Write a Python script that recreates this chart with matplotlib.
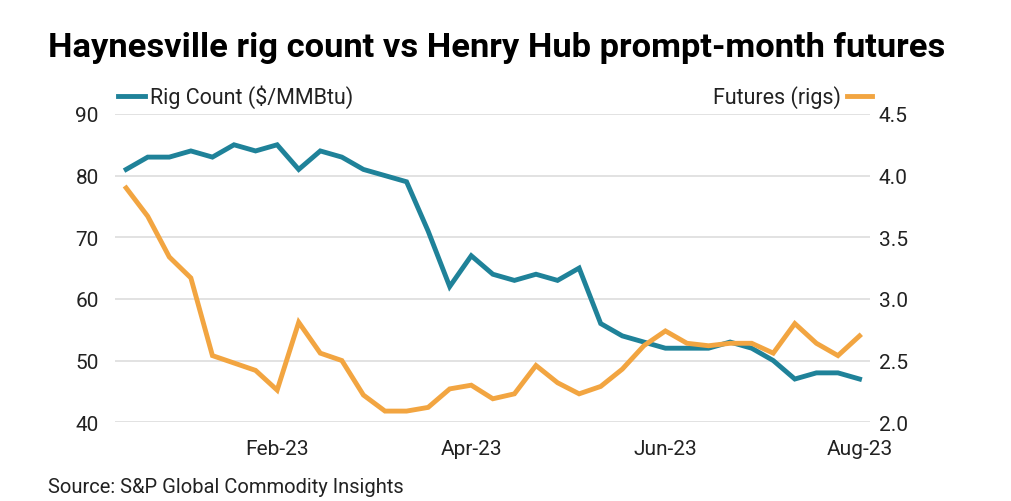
import matplotlib.pyplot as plt

plt.rcParams['font.family'] = ['Roboto', 'DejaVu Sans']

# weekly values
rig_count = [81, 83, 83, 84, 83, 85, 84, 85, 81, 84, 83, 81, 80, 79, 71, 62, 67, 64,
             63, 64, 63, 65, 56, 54, 53, 52, 52, 52, 53, 52, 50, 47, 48, 48, 47]
futures = [3.90, 3.67, 3.34, 3.17, 2.54, 2.48, 2.42, 2.26, 2.81, 2.56, 2.50, 2.22,
           2.09, 2.09, 2.12, 2.27, 2.30, 2.19, 2.23, 2.46, 2.32, 2.23, 2.29, 2.43,
           2.62, 2.74, 2.64, 2.62, 2.64, 2.64, 2.56, 2.80, 2.64, 2.54, 2.70]
tick_pos = [7, 16, 25, 34]
tick_labels = ['Feb-23', 'Apr-23', 'Jun-23', 'Aug-23']

teal = '#1f8299'
orange = '#f2a541'
x = list(range(len(rig_count)))

fig = plt.figure(figsize=(10.12, 5.02), dpi=100)
ax = fig.add_axes([0.114, 0.157, 0.746, 0.614])
ax2 = ax.twinx()

ax.plot(x, rig_count, color=teal, lw=3.5, solid_joinstyle='miter', zorder=3)
ax2.plot(x, futures, color=orange, lw=3.5, solid_joinstyle='miter', zorder=3)

ax.set_xlim(-0.5, 34.5)
ax.set_ylim(40, 90)
ax2.set_ylim(2.0, 4.5)
ax.set_yticks([40, 50, 60, 70, 80, 90])
ax2.set_yticks([2.0, 2.5, 3.0, 3.5, 4.0, 4.5])
ax2.set_yticklabels(['2.0', '2.5', '3.0', '3.5', '4.0', '4.5'])
ax.set_xticks(tick_pos)
ax.set_xticklabels(tick_labels)

ax.grid(axis='y', color='#dddddd', lw=1.2)
ax.set_axisbelow(True)
for a in (ax, ax2):
    for s in a.spines.values():
        s.set_visible(False)
    a.tick_params(length=0, labelsize=15, colors='#222222')
ax.tick_params(axis='y', pad=12)
ax2.tick_params(axis='y', pad=6)
ax.tick_params(axis='x', pad=12)

fig.text(0.047, 0.905, 'Haynesville rig count vs Henry Hub prompt-month futures',
         fontsize=24.8, fontweight='bold', color='black', va='center')

# legend
fig.lines.append(plt.Line2D([0.117, 0.143], [0.806, 0.806], color=teal, lw=3.5,
                            transform=fig.transFigure))
fig.text(0.148, 0.806, 'Rig Count ($/MMBtu)', fontsize=15.5, color='#222222', va='center')
fig.lines.append(plt.Line2D([0.837, 0.862], [0.806, 0.806], color=orange, lw=3.5,
                            transform=fig.transFigure))
fig.text(0.831, 0.806, 'Futures (rigs)', fontsize=15.5, color='#222222', va='center', ha='right')

fig.text(0.047, 0.018, 'Source: S&P Global Commodity Insights', fontsize=14.5, color='#222222')

fig.savefig('out.png', dpi=100)
